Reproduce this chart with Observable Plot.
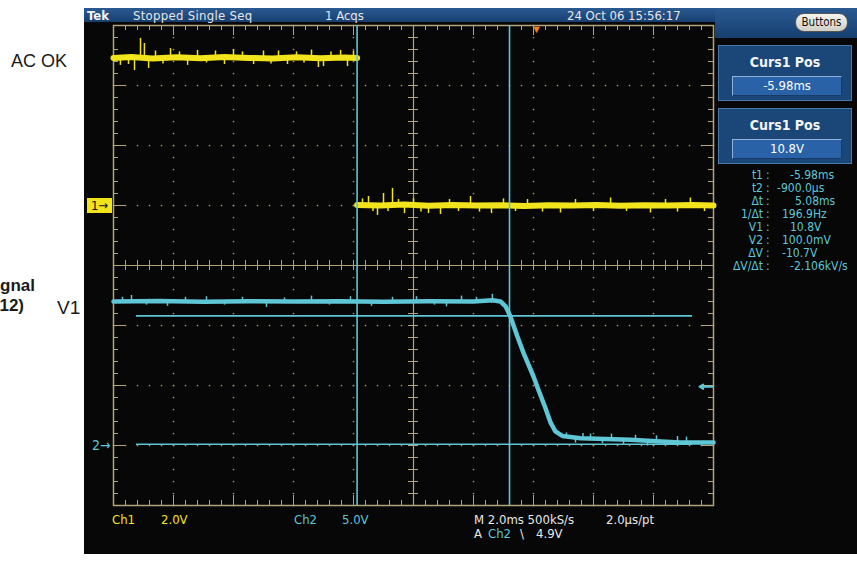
<!DOCTYPE html>
<html><head><meta charset="utf-8">
<script src="https://cdn.jsdelivr.net/npm/d3@7"></script>
<script src="https://cdn.jsdelivr.net/npm/@observablehq/plot@0.6"></script>
<style>
html,body{margin:0;padding:0;background:#fff;width:857px;height:563px;overflow:hidden;}
#wrap{position:relative;width:857px;height:563px;overflow:hidden;}
#scope{position:absolute;left:84px;top:8px;width:773px;height:546px;background:#070707;}
#plot{position:absolute;left:0;top:0;}
.t{position:absolute;white-space:nowrap;font-family:"DejaVu Sans Condensed","Liberation Sans Narrow","Arial Narrow",sans-serif;line-height:1;}
.lbl{position:absolute;white-space:nowrap;font-family:"Liberation Sans",Arial,Helvetica,sans-serif;color:#1a1a1a;line-height:1;}
#header{position:absolute;left:84px;top:8px;width:773px;height:14px;background:linear-gradient(#2a5a92,#173f70);}
#rtop{position:absolute;left:715px;top:8px;width:142px;height:30px;background:linear-gradient(#2a5a92,#173f70);}
.box{position:absolute;left:718px;width:134px;height:56px;background:#1b4678;border:1px solid #4a78ae;box-sizing:border-box;}
.field{position:absolute;left:13px;width:110px;height:20px;background:#2a62a8;border:1px solid #8fb2dc;border-right-color:#183a66;border-bottom-color:#183a66;box-sizing:border-box;color:#fff;font-size:13px;text-align:center;line-height:18px;}
</style></head><body><div id="wrap">
<div id="scope"></div>
<div id="header"></div>
<div id="rtop"></div>
</div>
<script>
// ---------- data ----------
const ch1VoltsPerDiv = 2;      // Ch1 2.0V
const ch2VoltsPerDiv = 5;      // Ch2 5.0V
const ch1Ground = 1;           // divisions above centre ("1" marker)
const ch2Ground = -3;          // divisions below centre ("2" marker)
const timePerDiv = 2;          // M 2.0ms
const timeDomain = [-14.1, 5.9]; // ms, trigger at 0

// Ch1 (AC OK), volts
const ch1HighT = [-14.1, -13.5, -12.8, -12.0, -11.2, -10.4, -9.6, -8.8, -8.0, -7.2, -6.4, -5.98];
const ch1HighV = [4.92, 4.95, 4.9, 4.94, 4.91, 4.95, 4.92, 4.9, 4.94, 4.91, 4.93, 4.92];
const ch1LowT = [-5.98, -5.2, -4.4, -3.6, -2.8, -2.0, -1.2, -0.4, 0.4, 1.2, 2.0, 2.8, 3.6, 4.4, 5.2, 5.9];
const ch1LowV = [0.02, 0.0, 0.03, -0.01, 0.02, 0.0, 0.01, -0.02, 0.01, 0.0, 0.02, -0.01, 0.01, 0.0, 0.02, 0.0];
// Ch1 noise spikes: time, level, spike tip
const ch1SpikeT = [-13.87, -13.6, -13.4, -13.2, -13.07, -12.93, -12.7, -12.45, -12.2, -11.9, -11.63, -11.3, -11.0, -10.7, -10.4, -10.1,
                   -9.8, -9.43, -9.1, -8.85, -8.6, -8.3, -8.0, -7.75, -7.5, -7.27, -7.1, -6.85, -6.53, -6.3, -6.1,
                   -5.8, -5.6, -5.45, -5.3, -5.1, -4.95, -4.8, -4.6, -4.4, -4.1, -3.85, -3.6, -3.2, -2.9, -2.6, -2.2, -1.9, -1.5, -1.1, -0.7,
                   -0.3, 0.2, 0.8, 1.3, 1.9, 2.47, 3.0, 3.8, 4.3, 4.7, 5.13, 5.6];
const ch1SpikeBase = [4.92, 4.92, 4.92, 4.92, 4.92, 4.92, 4.92, 4.92, 4.92, 4.92, 4.92, 4.92, 4.92, 4.92, 4.92, 4.92,
                      4.92, 4.92, 4.92, 4.92, 4.92, 4.92, 4.92, 4.92, 4.92, 4.92, 4.92, 4.92, 4.92, 4.92, 4.92,
                      0, 0, 0, 0, 0, 0, 0, 0, 0, 0, 0, 0, 0, 0, 0, 0, 0, 0, 0, 0,
                      0, 0, 0, 0, 0, 0, 0, 0, 0, 0, 0, 0];
const ch1SpikeV = [4.67, 4.7, 4.5, 5.57, 5.4, 4.57, 5.15, 4.72, 5.23, 5.12, 4.67, 5.17, 4.75, 5.15, 4.7, 5.2,
                   5.12, 4.7, 5.15, 4.72, 5.15, 4.7, 5.12, 4.75, 5.18, 4.6, 4.63, 5.12, 5.17, 4.63, 5.15,
                   0.22, 0.3, -0.2, -0.33, 0.4, -0.2, 0.57, 0.2, -0.27, 0.22, -0.22, -0.27, -0.3, 0.2, -0.2, 0.3, -0.22, -0.27, 0.22, -0.2,
                   0.2, -0.22, -0.25, 0.2, -0.2, 0.25, -0.2, -0.25, 0.2, -0.22, 0.25, -0.2];

// Ch2 (V1), volts
const ch2T = [-14.1, -12.6, -11.1, -9.6, -8.1, -6.6, -5.1, -3.6, -2.1, -1.47, -1.2, -1.03, -0.87, -0.64, -0.43, -0.1, 0.07, 0.3, 0.47, 0.63, 0.86, 1.47, 2.3, 3.13, 4.0, 4.8, 5.9];
const ch2V = [12.0, 12.05, 11.97, 12.02, 11.99, 12.03, 11.98, 12.02, 12.0, 12.1, 12.0, 11.6, 10.75, 9.1, 7.7, 5.75, 4.6, 3.1, 1.9, 1.17, 0.8, 0.6, 0.55, 0.47, 0.35, 0.25, 0.25];
const ch2SpikeT = [-13.8, -13.5, -13.0, -12.3, -11.7, -11.0, -10.4, -9.8, -9.0, -8.4, -7.5, -6.9, -6.2, -5.5, -4.8, -4.0, -3.4, -3.0, -2.5, -2.0, -1.47,
                   1.0, 1.3, 1.55, 1.8, 2.2, 2.5, 2.9, 3.3, 3.7, 4.0, 4.4, 4.7, 5.0, 5.5];
const ch2SpikeBase = [12, 12, 12, 12, 12, 12, 12, 12, 12, 12, 12, 12, 12, 12, 12, 12, 12, 12, 12, 12, 12,
                      0.7, 0.65, 0.62, 0.6, 0.57, 0.55, 0.5, 0.45, 0.4, 0.35, 0.3, 0.27, 0.25, 0.25];
const ch2SpikeV = [12.35, 12.5, 11.7, 11.6, 12.35, 12.4, 11.7, 12.35, 11.5, 12.3, 12.45, 11.7, 12.4, 11.6, 12.35, 12.4, 11.7, 11.55, 12.45, 12.35, 12.6,
                   1.05, 0.2, 1.0, 0.95, 0.15, 0.95, 0.1, 0.85, -0.05, 0.8, 0.0, 0.75, 0.7, -0.05];

// cursors and trigger
const cursorT = [-5.98, -0.9];   // t1, t2 (ms)
const cursorV = [10.8, 0.1];     // V1, V2 (volts, Ch2)
const triggerT = 0;
const triggerLevel = 4.9;

// readouts / annotation text
const headerTexts = ["Tek", "Stopped  Single Seq", "1 Acqs", "24 Oct 06 15:56:17"];
const panelTitles = ["Curs1 Pos", "Curs1 Pos"];
const panelValues = ["-5.98ms", "10.8V"];
const readLabels = ["t1", "t2", "\u0394t", "1/\u0394t", "V1", "V2", "\u0394V", "\u0394V/\u0394t"];
const readValues = ["-5.98ms", "-900.0\u00b5s", "5.08ms", "196.9Hz", "10.8V", "100.0mV", "-10.7V", "-2.106kV/s"];
const bottomTexts = ["Ch1", "2.0V", "Ch2", "5.0V", "M 2.0ms 500kS/s", "2.0\u00b5s/pt", "A", "Ch2", "\\", "4.9V"];
const sideLabels = ["AC OK", "Signal", "(12)", "V1"];

// ---------- build ----------
const yellow = "#f2e41c", cyan = "#5fc6d6", tan = "#b3a47b", dotc = "#ab9566", orange = "#f0801e";
const ch1Y = v => ch1Ground + v / ch1VoltsPerDiv;
const ch2Y = v => ch2Ground + v / ch2VoltsPerDiv;

const ch1 = [
  ...ch1HighT.map((t, i) => ({t, v: ch1HighV[i], seg: "high"})),
  ...ch1LowT.map((t, i) => ({t, v: ch1LowV[i], seg: "low"}))
];
const ch1Spikes = ch1SpikeT.map((t, i) => ({t, b: ch1SpikeBase[i], v: ch1SpikeV[i]}));
const ch2 = ch2T.map((t, i) => ({t, v: ch2V[i]}));
const ch2Spikes = ch2SpikeT.map((t, i) => ({t, b: ch2SpikeBase[i], v: ch2SpikeV[i]}));

const t0 = timeDomain[0], t1e = timeDomain[1];
const tCenter = t0 + 5 * timePerDiv;
const tMajor = d3.range(0, 11).map(i => t0 + i * timePerDiv);
const tMinor = d3.range(0, 51).map(i => t0 + i * timePerDiv / 5);
const yMajor = d3.range(-4, 5);
const yMinor = d3.range(0, 41).map(i => -4 + i * 0.2);
const pxX = timePerDiv / 60, pxY = 1 / 60; // data units per pixel

const gridDots = [];
tMajor.slice(1, 10).forEach((t, i) => { if (i !== 4) yMinor.forEach(y => gridDots.push({t, y})); });
yMajor.slice(1, 8).forEach(y => { if (y !== 0) tMinor.forEach(t => gridDots.push({t, y})); });

const chart = Plot.plot({
  width: 857, height: 563,
  marginLeft: 113, marginRight: 144, marginTop: 25, marginBottom: 58,
  x: {domain: timeDomain, axis: null},
  y: {domain: [-4, 4], axis: null},
  style: {background: "transparent", overflow: "visible"},
  marks: [
    Plot.dot(gridDots, {x: "t", y: "y", r: 0.85, fill: dotc}),
    Plot.ruleX([tCenter], {stroke: tan, strokeWidth: 1.2}),
    Plot.ruleY([0], {stroke: tan, strokeWidth: 1.2}),
    Plot.ruleX(tMinor, {x: d => d, y1: -5 * pxY, y2: 5 * pxY, stroke: tan}),
    Plot.ruleY(yMinor, {y: d => d, x1: tCenter - 5 * pxX, x2: tCenter + 5 * pxX, stroke: tan}),
    // border ticks
    Plot.ruleX(tMinor, {x: d => d, y1: 4, y2: 4 - 5 * pxY, stroke: tan}),
    Plot.ruleX(tMajor, {x: d => d, y1: 4, y2: 4 - 10 * pxY, stroke: tan}),
    Plot.ruleX(tMinor, {x: d => d, y1: -4, y2: -4 + 5 * pxY, stroke: tan}),
    Plot.ruleX(tMajor, {x: d => d, y1: -4, y2: -4 + 10 * pxY, stroke: tan}),
    Plot.ruleY(yMinor, {y: d => d, x1: t0, x2: t0 + 5 * pxX, stroke: tan}),
    Plot.ruleY(yMajor, {y: d => d, x1: t0, x2: t0 + 12 * pxX, stroke: tan}),
    Plot.ruleY(yMinor, {y: d => d, x1: t1e, x2: t1e - 5 * pxX, stroke: tan}),
    Plot.ruleY(yMajor, {y: d => d, x1: t1e, x2: t1e - 12 * pxX, stroke: tan}),
    Plot.frame({stroke: tan, strokeWidth: 1.5}),
    // traces
    Plot.ruleX(ch1Spikes, {x: "t", y1: d => ch1Y(d.b), y2: d => ch1Y(d.v), stroke: yellow, strokeWidth: 1.5}),
    Plot.line(ch1, {x: "t", y: d => ch1Y(d.v), z: "seg", stroke: yellow, strokeWidth: 6}),
    Plot.ruleX(ch2Spikes, {x: "t", y1: d => ch2Y(d.b), y2: d => ch2Y(d.v), stroke: cyan, strokeWidth: 1.5}),
    Plot.line(ch2, {x: "t", y: d => ch2Y(d.v), stroke: cyan, strokeWidth: 4.5}),
    // cursors
    Plot.ruleX(cursorT, {x: d => d, stroke: cyan, strokeWidth: 1.6}),
    Plot.ruleY(cursorV, {y: d => ch2Y(d), x1: t0 + 23 * pxX, x2: t1e - 21 * pxX, stroke: cyan, strokeWidth: 1.6}),
    // markers
    Plot.text([ch2Ground], {x: t0, y: d => d, text: () => "2\u2192", dx: -3, textAnchor: "end", fill: cyan, fontSize: 14, fontFamily: "DejaVu Sans Condensed, sans-serif"}),
    Plot.arrow([triggerLevel], {x1: t1e - 1 * pxX, x2: t1e - 14 * pxX, y1: d => ch2Y(d), y2: d => ch2Y(d), stroke: cyan, strokeWidth: 2, headLength: 7}),
    Plot.text([triggerT], {x: d => d, y: 4, text: () => "\u25BC", dy: 4, fill: orange, fontSize: 11})
  ]
});
chart.id = "plot";
const wrap = document.getElementById("wrap");
wrap.appendChild(chart);

const ys = chart.scale("y");
function put(txt, x, yc, size, color, extra) {
  const s = document.createElement("div");
  s.className = "t";
  s.textContent = txt;
  if (x !== null) s.style.left = x + "px";
  s.style.top = (yc - size / 2) + "px";
  s.style.fontSize = size + "px";
  s.style.color = color;
  if (extra) Object.assign(s.style, extra);
  wrap.appendChild(s);
  return s;
}
// header
put(headerTexts[0], 87, 15, 13, "#f2f2f2", {fontWeight: "bold"});
put(headerTexts[1], 133, 15, 13, "#e6e6e6", {letterSpacing: "0.3px"});
put(headerTexts[2], 325, 15, 13, "#e6e6e6");
put(headerTexts[3], 567, 15, 13, "#e6e6e6");
put("Buttons", 795, 22.5, 11.5, "#111", {background: "linear-gradient(#f4f4ee,#cfcfc6)", border: "1px solid #555", borderRadius: "9px", width: "53px", height: "19px", lineHeight: "17px", textAlign: "center", boxSizing: "border-box", top: "13px"});

// cursor panels
[45, 108].forEach((top, i) => {
  const b = document.createElement("div");
  b.className = "box";
  b.style.top = top + "px";
  const ti = document.createElement("div");
  ti.className = "t";
  ti.textContent = panelTitles[i];
  Object.assign(ti.style, {left: "0", width: "100%", textAlign: "center", top: "9px", fontSize: "14px", fontWeight: "bold", color: "#f4f4f4"});
  b.appendChild(ti);
  const f = document.createElement("div");
  f.className = "field t";
  f.textContent = panelValues[i];
  Object.assign(f.style, {top: "30px"});
  b.appendChild(f);
  wrap.appendChild(b);
});
// readout
const valueLeft = [790, 777, 795, 782, 790, 782, 782, 790];
readLabels.forEach((l, i) => {
  const yc = 175 + i * 13;
  put(l, null, yc, 12, cyan, {right: (857 - 763) + "px"});
  put(":", 766, yc, 12, cyan);
  put(readValues[i], valueLeft[i], yc, 12, cyan);
});
// channel 1 marker box
put("1\u2192", 87, ys.apply(ch1Ground), 13, "#111", {background: yellow, width: "25px", height: "15px", top: (ys.apply(ch1Ground) - 7.5) + "px", lineHeight: "15px", paddingLeft: "4px", boxSizing: "border-box"});
// bottom texts
put(bottomTexts[0], 112, 519, 13, yellow);
put(bottomTexts[1], 161, 519, 13, yellow);
put(bottomTexts[2], 294, 519, 13, cyan);
put(bottomTexts[3], 342, 519, 13, cyan);
put(bottomTexts[4], 474, 519, 13, "#e8e8e8");
put(bottomTexts[5], 606, 519, 13, "#e8e8e8");
put(bottomTexts[6], 474, 533, 13, "#e8e8e8");
put(bottomTexts[7], 488, 533, 13, cyan);
put(bottomTexts[8], 520, 533, 13, "#e8e8e8");
put(bottomTexts[9], 536, 533, 13, "#e8e8e8");
// labels on the white margin
function lbl(txt, x, yc, size, extra) {
  const s = document.createElement("div");
  s.className = "lbl";
  s.textContent = txt;
  s.style.left = x + "px";
  s.style.top = (yc - size / 2) + "px";
  s.style.fontSize = size + "px";
  if (extra) Object.assign(s.style, extra);
  wrap.appendChild(s);
}
lbl(sideLabels[0], 11, 61, 18);
lbl(sideLabels[1], -205, 285, 17, {width: "240px", textAlign: "right", fontWeight: "bold"});
lbl(sideLabels[2], -206, 305, 17, {width: "230px", textAlign: "right", fontWeight: "bold"});
lbl(sideLabels[3], 57, 307, 19);
</script>
</body></html>
